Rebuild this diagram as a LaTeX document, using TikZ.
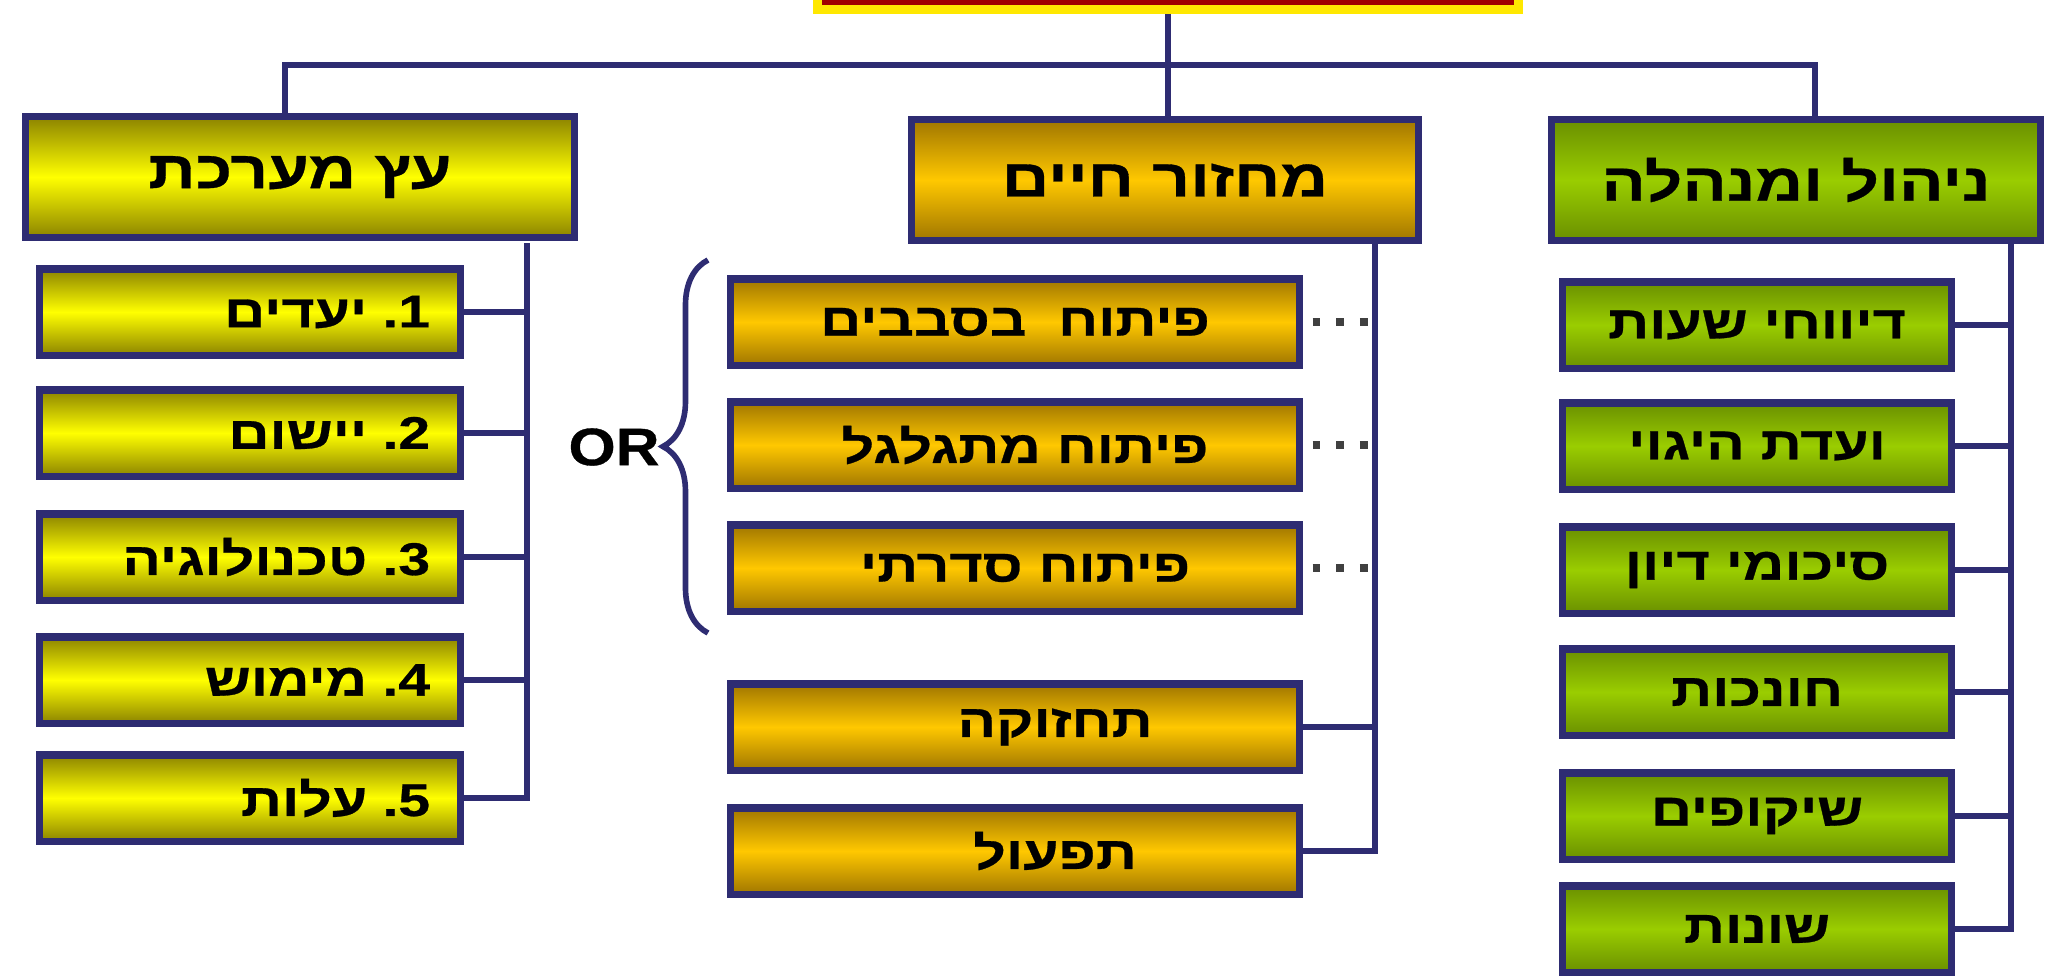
\documentclass[tikz,border=0pt]{standalone}
\usepackage{fontspec}
\setmainfont{Liberation Sans}
\newfontfamily\hebfont[Script=Hebrew, FakeStretch=1.25, FakeBold=0.6]{Liberation Sans}
\newfontfamily\orfont[FakeStretch=1.15, FakeBold=0.6]{Liberation Sans}
\TeXXeTstate=1
\usepackage{tikz}
\usetikzlibrary{positioning, decorations.pathreplacing}

\definecolor{navy}{HTML}{2E2C72}
\definecolor{yelEdge}{HTML}{8C8400}
\definecolor{yelMid}{HTML}{FFFF00}
\definecolor{goldEdge}{HTML}{A07600}
\definecolor{goldMid}{HTML}{FFC800}
\definecolor{grnEdge}{HTML}{6A9000}
\definecolor{grnMid}{HTML}{9ACD00}
\definecolor{rootRed}{HTML}{A00000}
\definecolor{rootRim}{HTML}{FFE800}

\newcommand{\hebtext}[1]{{\hebfont\bfseries\beginR #1\endR}}
% numbered entry: number and dot set to the right of the word, dot on the left of the digit
\newcommand{\hebnum}[2]{{\hebfont\bfseries #2\ .\kern0pt#1}}

\tikzstyle{block} = [rectangle, draw=navy, line width=2pt, inner sep=0pt, text=black]
\tikzstyle{head} = [block, minimum height=1.2cm, font=\fontsize{15}{18}\selectfont]
\tikzstyle{item} = [block, minimum height=0.86cm, font=\fontsize{13}{16}\selectfont]
\tikzstyle{sysfill} = [top color=yelEdge, bottom color=yelEdge, middle color=yelMid]
\tikzstyle{lifefill} = [top color=goldEdge, bottom color=goldEdge, middle color=goldMid]
\tikzstyle{mgmtfill} = [top color=grnEdge, bottom color=grnEdge, middle color=grnMid]
\tikzstyle{link} = [draw=navy, line width=1.6pt]
\tikzstyle{optlink} = [draw=black!75, line width=2.2pt, dash pattern=on 2.2pt off 4.5pt]

\begin{document}
\begin{tikzpicture}[x=0.01cm, y=-0.01cm]
		\useasboundingbox (0,0) rectangle (2048,975);
		% node placement
		\node [rectangle, fill=rootRed, draw=rootRim, line width=2.5pt, minimum width=7.0cm, minimum height=0.55cm] (root) at (1168,-18) {};

		\node [head, sysfill, minimum width=5.48cm] (sys) at (300,177) {\hebtext{עץ מערכת}};
		\node [head, lifefill, minimum width=5.06cm] (life) at (1165,180) {\hebtext{מחזור חיים}};
		\node [head, mgmtfill, minimum width=4.89cm] (mgmt) at (1796,180) {\hebtext{ניהול ומנהלה}};

		\node [item, sysfill, minimum width=4.21cm, text width=3.6cm, align=right] (s1) at (250,312) {\hebnum{1}{יעדים}};
		\node [item, sysfill, minimum width=4.21cm, text width=3.6cm, align=right] (s2) at (250,433) {\hebnum{2}{יישום}};
		\node [item, sysfill, minimum width=4.21cm, text width=3.6cm, align=right] (s3) at (250,557) {\hebnum{3}{טכנולוגיה}};
		\node [item, sysfill, minimum width=4.21cm, text width=3.6cm, align=right] (s4) at (250,680) {\hebnum{4}{מימוש}};
		\node [item, sysfill, minimum width=4.21cm, text width=3.6cm, align=right] (s5) at (250,798) {\hebnum{5}{עלות}};

		\node [item, lifefill, minimum width=5.68cm] (l1) at (1015,322) {\hebtext{פיתוח\ \ בסבבים}};
		\node [item, lifefill, minimum width=5.68cm] (l2) at (1015,445) {\hspace*{0.2cm}\hebtext{פיתוח מתגלגל}};
		\node [item, lifefill, minimum width=5.68cm] (l3) at (1015,568) {\hspace*{0.2cm}\hebtext{פיתוח סדרתי}};
		\node [item, lifefill, minimum width=5.68cm] (l4) at (1015,727) {\hspace*{0.8cm}\hebtext{תחזוקה}};
		\node [item, lifefill, minimum width=5.68cm] (l5) at (1015,851) {\hspace*{0.8cm}\hebtext{תפעול}};

		\node [item, mgmtfill, minimum width=3.88cm] (m1) at (1757,325) {\hebtext{דיווחי שעות}};
		\node [item, mgmtfill, minimum width=3.88cm] (m2) at (1757,446) {\hebtext{ועדת היגוי}};
		\node [item, mgmtfill, minimum width=3.88cm] (m3) at (1757,570) {\hebtext{סיכומי דיון}};
		\node [item, mgmtfill, minimum width=3.88cm] (m4) at (1757,692) {\hebtext{חונכות}};
		\node [item, mgmtfill, minimum width=3.88cm] (m5) at (1757,816) {\hebtext{שיקופים}};
		\node [item, mgmtfill, minimum width=3.88cm] (m6) at (1757,929) {\hebtext{שונות}};

		\node [font=\orfont\bfseries\fontsize{15}{18}\selectfont] (or) at (614,447) {OR};

		% top level lines
		\coordinate (bus) at (1165,65);
		\path[link] (root.south) -- (root.south |- life.north);
		\path[link] ([xshift=-0.15cm]sys.north) |- (bus) -| ([xshift=0.19cm]mgmt.north);

		% spines
		\coordinate (sysbar) at (527,243);
		\coordinate (lifebar) at (1375,242);
		\coordinate (mgmtbar) at (2011,242);
		\path[link] (sysbar) |- (s5.east);
		\path[link] (lifebar) |- (l5.east);
		\path[link] (mgmtbar) |- (m6.east);
		\foreach \i in {1,...,4}
			\path[link] (s\i.east) -- (s\i.east -| sysbar);
		\foreach \i in {1,2,3}
			\path[optlink] ([xshift=0.1cm]l\i.east) -- (l\i.east -| lifebar);
		\path[link] (l4.east) -- (l4.east -| lifebar);
		\foreach \i in {1,...,5}
			\path[link] (m\i.east) -- (m\i.east -| mgmtbar);

		% the OR brace
		\coordinate (bracebot) at (708,633);
		\coordinate (bracetop) at (708,260);
		\draw[navy, line width=1.6pt, decorate, decoration={brace, amplitude=0.45cm}] (bracebot) -- (bracetop);
	\end{tikzpicture}
\end{document}
